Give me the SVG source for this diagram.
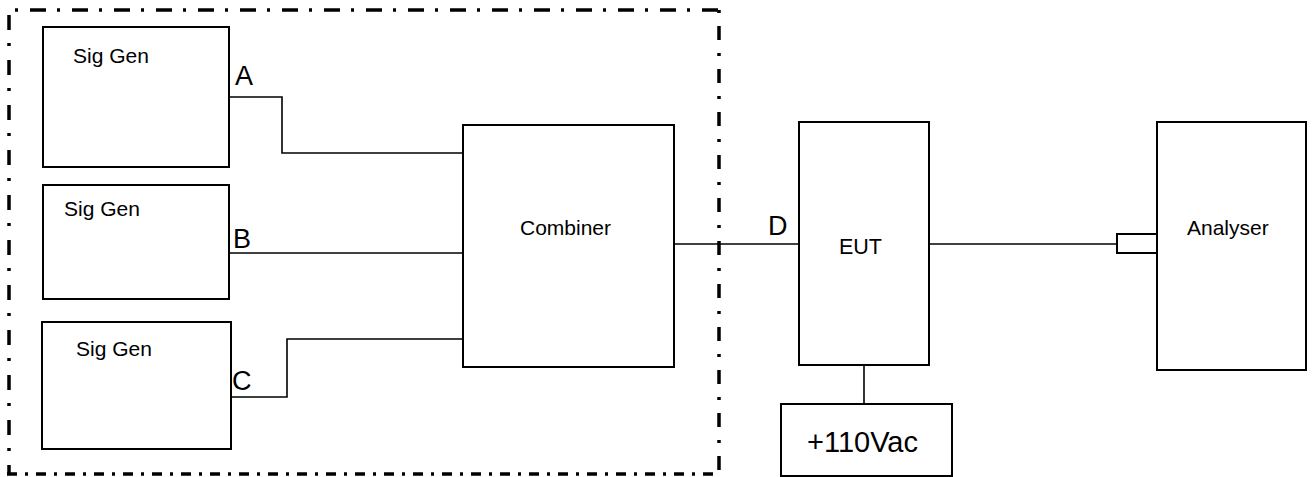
<svg xmlns="http://www.w3.org/2000/svg" width="1313" height="477" viewBox="0 0 1313 477">
<style>
.box{fill:#fff;stroke:#000;stroke-width:2}
.lbl{font-family:"Liberation Sans",Arial,sans-serif;fill:#000;font-size:21px}
.big{font-family:"Liberation Sans",Arial,sans-serif;fill:#000;font-size:27px}
.wire{fill:none;stroke:#000;stroke-width:1.6}
.frame{fill:none;stroke:#000;stroke-width:3.5}
</style>
<rect width="1313" height="477" fill="#fff"/>
<g id="frame">
<line class="frame" x1="15" y1="10" x2="719" y2="10" stroke-dasharray="3 12 16 11"/>
<line class="frame" x1="9" y1="15" x2="9" y2="474" stroke-dasharray="15 13 3 14"/>
<line class="frame" x1="719" y1="10" x2="719" y2="474" stroke-dasharray="3 13 14 13"/>
<line class="frame" x1="7" y1="474" x2="721" y2="474" stroke-dasharray="10 8 3 8"/>
</g>
<g id="connectors">
<polyline class="wire" points="229,97 282,97 282,153 463,153"/>
<line class="wire" x1="229" y1="253" x2="463" y2="253"/>
<polyline class="wire" points="229,397 287,397 287,339 463,339"/>
<line class="wire" x1="674" y1="244" x2="799" y2="244"/>
<line class="wire" x1="929" y1="244" x2="1117" y2="244"/>
<line class="wire" x1="864" y1="365" x2="864" y2="404"/>
</g>
<g id="siggenA">
<rect class="box" x="43" y="27" width="186" height="140"/>
<text class="lbl" x="73" y="63">Sig Gen</text>
<text class="big" x="235" y="85">A</text>
</g>
<g id="siggenB">
<rect class="box" x="43" y="185" width="186" height="114"/>
<text class="lbl" x="64" y="216">Sig Gen</text>
<text class="big" x="233" y="248">B</text>
</g>
<g id="siggenC">
<rect class="box" x="42" y="322" width="189" height="127"/>
<text class="lbl" x="76" y="356">Sig Gen</text>
<text class="big" x="232" y="390">C</text>
</g>
<g id="combiner">
<rect class="box" x="463" y="125" width="211" height="242"/>
<text class="lbl" x="520" y="235" style="font-size:21px">Combiner</text>
</g>
<g id="labelD">
<text class="big" x="768" y="235">D</text>
</g>
<g id="eut">
<rect class="box" x="799" y="122" width="130" height="243"/>
<text class="lbl" x="839" y="254" style="font-size:21.5px">EUT</text>
</g>
<g id="power">
<rect class="box" x="781" y="404" width="171" height="72"/>
<text class="big" x="807" y="452" style="font-size:29px">+110Vac</text>
</g>
<g id="analyser">
<rect class="box" x="1117" y="234" width="40" height="19"/>
<rect class="box" x="1157" y="122" width="149" height="248"/>
<text class="lbl" x="1187" y="235" style="font-size:21px">Analyser</text>
</g>
</svg>
